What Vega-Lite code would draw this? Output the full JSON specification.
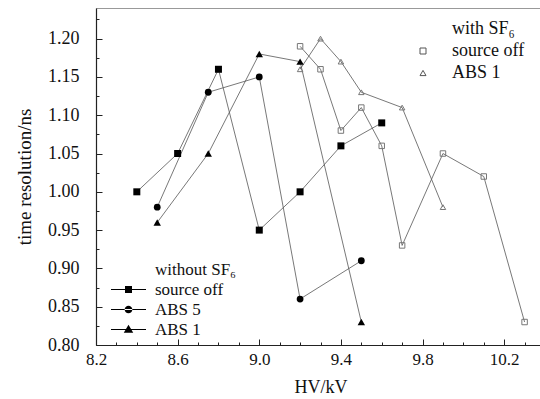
{
  "$schema": "https://vega.github.io/schema/vega-lite/v6.json",
  "autosize": "none",
  "width": 449,
  "height": 337,
  "padding": {"left": 96, "top": 8, "right": 0, "bottom": 54},
  "background": "white",
  "config": {
    "view": {"stroke": "#999", "strokeWidth": 1},
    "font": "Liberation Serif",
    "axis": {"labelFont": "Liberation Serif", "titleFont": "Liberation Serif", "labelColor": "#111", "titleColor": "#111", "titleFontWeight": "normal", "domainColor": "#222", "tickColor": "#222", "grid": false},
    "legend": {"labelFont": "Liberation Serif", "titleFont": "Liberation Serif", "titleFontWeight": "normal", "labelColor": "#111", "titleColor": "#111", "padding": 0}
  },
  "data": {"values": [
    {"group": "without", "series": "source off", "hv": 8.4, "tr": 1.00},
    {"group": "without", "series": "source off", "hv": 8.6, "tr": 1.05},
    {"group": "without", "series": "source off", "hv": 8.8, "tr": 1.16},
    {"group": "without", "series": "source off", "hv": 9.0, "tr": 0.95},
    {"group": "without", "series": "source off", "hv": 9.2, "tr": 1.00},
    {"group": "without", "series": "source off", "hv": 9.4, "tr": 1.06},
    {"group": "without", "series": "source off", "hv": 9.6, "tr": 1.09},
    {"group": "without", "series": "ABS 5", "hv": 8.5, "tr": 0.98},
    {"group": "without", "series": "ABS 5", "hv": 8.75, "tr": 1.13},
    {"group": "without", "series": "ABS 5", "hv": 9.0, "tr": 1.15},
    {"group": "without", "series": "ABS 5", "hv": 9.2, "tr": 0.86},
    {"group": "without", "series": "ABS 5", "hv": 9.5, "tr": 0.91},
    {"group": "without", "series": "ABS 1", "hv": 8.5, "tr": 0.96},
    {"group": "without", "series": "ABS 1", "hv": 8.75, "tr": 1.05},
    {"group": "without", "series": "ABS 1", "hv": 9.0, "tr": 1.18},
    {"group": "without", "series": "ABS 1", "hv": 9.2, "tr": 1.17},
    {"group": "without", "series": "ABS 1", "hv": 9.5, "tr": 0.83},
    {"group": "with", "series": "source off", "hv": 9.2, "tr": 1.19},
    {"group": "with", "series": "source off", "hv": 9.3, "tr": 1.16},
    {"group": "with", "series": "source off", "hv": 9.4, "tr": 1.08},
    {"group": "with", "series": "source off", "hv": 9.5, "tr": 1.11},
    {"group": "with", "series": "source off", "hv": 9.6, "tr": 1.06},
    {"group": "with", "series": "source off", "hv": 9.7, "tr": 0.93},
    {"group": "with", "series": "source off", "hv": 9.9, "tr": 1.05},
    {"group": "with", "series": "source off", "hv": 10.1, "tr": 1.02},
    {"group": "with", "series": "source off", "hv": 10.3, "tr": 0.83},
    {"group": "with", "series": "ABS 1", "hv": 9.2, "tr": 1.16},
    {"group": "with", "series": "ABS 1", "hv": 9.3, "tr": 1.20},
    {"group": "with", "series": "ABS 1", "hv": 9.4, "tr": 1.17},
    {"group": "with", "series": "ABS 1", "hv": 9.5, "tr": 1.13},
    {"group": "with", "series": "ABS 1", "hv": 9.7, "tr": 1.11},
    {"group": "with", "series": "ABS 1", "hv": 9.9, "tr": 0.98}
  ]},
  "encoding": {
    "x": {"field": "hv", "type": "quantitative", "scale": {"domain": [8.2, 10.4], "nice": false, "zero": false},
      "axis": {"title": "HV/kV", "titleFont": "Liberation Serif", "labelFont": "Liberation Serif",
        "values": [8.2, 8.3, 8.4, 8.5, 8.6, 8.7, 8.8, 8.9, 9.0, 9.1, 9.2, 9.3, 9.4, 9.5, 9.6, 9.7, 9.8, 9.9, 10.0, 10.1, 10.2, 10.3],
        "labelExpr": "abs((datum.value-8.2)/0.4 - round((datum.value-8.2)/0.4)) < 0.01 ? format(datum.value, '.1f') : ''",
        "labelFontSize": 17, "titleFontSize": 18,
        "tickSize": {"condition": {"test": "abs((datum.value-8.2)/0.4 - round((datum.value-8.2)/0.4)) < 0.01", "value": -6}, "value": -3},
        "labelPadding": 12, "titlePadding": 11, "domainWidth": 1.2, "labelFlush": false}},
    "y": {"field": "tr", "type": "quantitative", "scale": {"domain": [0.8, 1.24], "nice": false, "zero": false},
      "axis": {"title": "time resolution/ns", "titleFont": "Liberation Serif", "labelFont": "Liberation Serif",
        "values": [0.8, 0.825, 0.85, 0.875, 0.9, 0.925, 0.95, 0.975, 1.0, 1.025, 1.05, 1.075, 1.1, 1.125, 1.15, 1.175, 1.2, 1.225],
        "labelExpr": "abs(datum.value/0.05 - round(datum.value/0.05)) < 0.01 ? format(datum.value, '.2f') : ''",
        "labelFontSize": 18, "titleFontSize": 19,
        "tickSize": {"condition": {"test": "abs(datum.value/0.05 - round(datum.value/0.05)) < 0.01", "value": -6}, "value": -3},
        "labelPadding": 23, "titlePadding": 13, "domainWidth": 1.2, "labelFlush": false}}
  },
  "layer": [
    {
      "mark": {"type": "line", "color": "#555", "strokeWidth": 0.8},
      "encoding": {
        "detail": [{"field": "group"}, {"field": "series"}]
      }
    },
    {
      "transform": [{"filter": "datum.group === 'without' && datum.series === 'source off'"}],
      "mark": {"type": "point", "filled": true, "color": "#000", "opacity": 1, "size": 49, "shape": "square"}
    },
    {
      "transform": [{"filter": "datum.group === 'without' && datum.series === 'ABS 5'"}],
      "mark": {"type": "point", "filled": true, "color": "#000", "opacity": 1, "size": 46, "shape": "circle"}
    },
    {
      "transform": [{"filter": "datum.group === 'without' && datum.series === 'ABS 1'"}],
      "mark": {"type": "point", "filled": true, "color": "#000", "opacity": 1, "size": 55, "shape": "triangle-up"}
    },
    {
      "transform": [{"filter": "false"}],
      "mark": {"type": "point", "filled": true, "color": "#000", "opacity": 1},
      "encoding": {
        "shape": {
          "field": "series", "type": "nominal",
          "scale": {"domain": ["without SF₆", "source off", "ABS 5", "ABS 1"], "range": [
            "M0,0",
            "M-5,-0.13H5V0.13H-5Z M-1,-1H1V1H-1Z",
            "M-5,-0.13H5V0.13H-5Z M-1.1,0A1.1,1.1,0,1,0,1.1,0A1.1,1.1,0,1,0,-1.1,0Z",
            "M-5,-0.13H5V0.13H-5Z M0,-1.35L1.35,0.95L-1.35,0.95Z"
          ]},
          "legend": {
            "title": null, "orient": "none", "legendX": 24, "legendY": 253,
            "labelFontSize": 17, "symbolSize": 49, "labelOffset": 18, "rowPadding": 2,
            "labelFont": "Liberation Serif",
            "symbolFillColor": "#000", "symbolStrokeColor": "#000", "symbolStrokeWidth": 0.3, "symbolOpacity": 1
          }
        }
      }
    },
    {
      "transform": [{"filter": "datum.group === 'with'"}],
      "mark": {"type": "point", "filled": false, "color": "#777", "opacity": 1, "strokeWidth": 1, "size": 30},
      "encoding": {
        "shape": {
          "field": "series", "type": "nominal",
          "scale": {"domain": ["with SF₆", "source off", "ABS 1"], "range": ["M0,0", "square", "triangle-up"]},
          "legend": {
            "title": null, "orient": "none", "legendX": 318, "legendY": 12,
            "labelFontSize": 18, "symbolSize": 36, "labelOffset": 20, "rowPadding": 4,
            "labelFont": "Liberation Serif",
            "symbolStrokeColor": "#555", "symbolOpacity": 1, "symbolStrokeWidth": 1
          }
        }
      }
    }
  ],
  "resolve": {"scale": {"shape": "independent"}}
}
